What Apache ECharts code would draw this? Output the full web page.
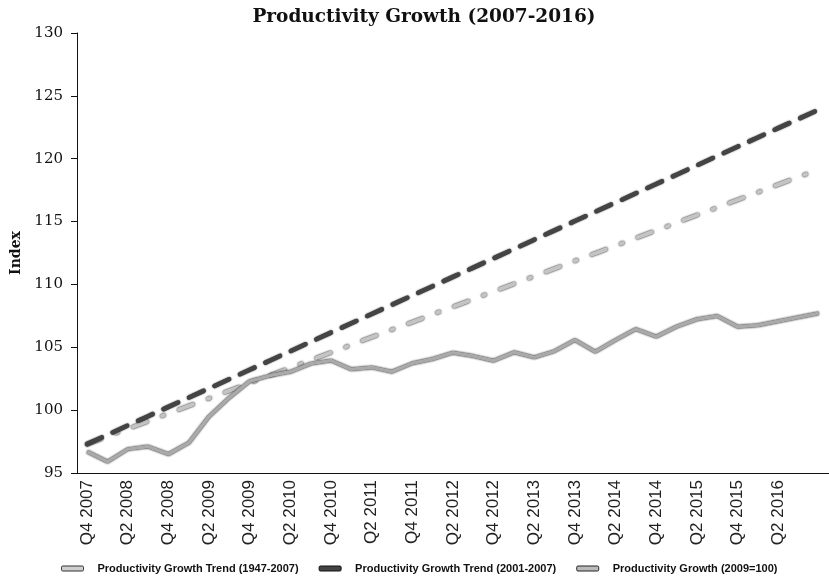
<!DOCTYPE html>
<html>
<head>
<meta charset="utf-8">
<script src="https://cdn.jsdelivr.net/npm/echarts@6/dist/echarts.min.js"></script>
<style>
  html, body { margin: 0; padding: 0; background: #fff; }
  #chart { width: 829px; height: 581px; }
</style>
</head>
<body>
<div id="chart"></div>
<script>
// quarters Q4 2007 .. Q4 2016
var quarters = [
  'Q4 2007',
  'Q1 2008', 'Q2 2008', 'Q3 2008', 'Q4 2008',
  'Q1 2009', 'Q2 2009', 'Q3 2009', 'Q4 2009',
  'Q1 2010', 'Q2 2010', 'Q3 2010', 'Q4 2010',
  'Q1 2011', 'Q2 2011', 'Q3 2011', 'Q4 2011',
  'Q1 2012', 'Q2 2012', 'Q3 2012', 'Q4 2012',
  'Q1 2013', 'Q2 2013', 'Q3 2013', 'Q4 2013',
  'Q1 2014', 'Q2 2014', 'Q3 2014', 'Q4 2014',
  'Q1 2015', 'Q2 2015', 'Q3 2015', 'Q4 2015',
  'Q1 2016', 'Q2 2016', 'Q3 2016', 'Q4 2016'
];

// trend 1947-2007 (dash-dot)
var trendLong = [
  97.3, 97.91, 98.51, 99.12, 99.73, 100.34, 100.94, 101.55, 102.16, 102.76,
  103.37, 103.98, 104.58, 105.19, 105.8, 106.41, 107.01, 107.62, 108.23, 108.83,
  109.44, 110.05, 110.65, 111.26, 111.87, 112.48, 113.08, 113.69, 114.3, 114.9,
  115.51, 116.12, 116.72, 117.33, 117.94, 118.55, 119.15
];

// trend 2001-2007 (dashed)
var trendShort = [
  97.3, 98.04, 98.78, 99.52, 100.26, 101.0, 101.73, 102.47, 103.21, 103.95,
  104.69, 105.43, 106.17, 106.91, 107.65, 108.39, 109.12, 109.86, 110.6, 111.34,
  112.08, 112.82, 113.56, 114.3, 115.04, 115.78, 116.51, 117.25, 117.99, 118.73,
  119.47, 120.21, 120.95, 121.69, 122.43, 123.17, 123.9
];

// actual productivity (2009=100)
var productivity = [
  96.7, 95.9, 96.9, 97.1, 96.5, 97.4, 99.5, 101.0, 102.3, 102.75,
  103.05, 103.7, 103.95, 103.25, 103.4, 103.06, 103.73, 104.07, 104.57, 104.3,
  103.93, 104.6, 104.2, 104.7, 105.58, 104.65, 105.58, 106.45, 105.85, 106.64,
  107.23, 107.49, 106.64, 106.75, 107.07, 107.39, 107.7
];

var seriesNames = [
  'Productivity Growth Trend (1947-2007)',
  'Productivity Growth Trend (2001-2007)',
  'Productivity Growth (2009=100)'
];

var yTicks = { min: 95, max: 130, step: 5 };

var myChart = echarts.init(document.getElementById('chart'));

var option = {
  animation: false,
  title: {
    text: 'Productivity Growth (2007-2016)',
    left: 419,
    top: 3,
    textAlign: 'center',
    textStyle: {
      fontFamily: 'DejaVu Serif',
      fontWeight: 'bold',
      fontSize: 18.5,
      color: '#111'
    }
  },
  legend: {
    bottom: 2,
    left: 56,
    itemGap: 20,
    itemWidth: 22,
    itemHeight: 5,
    textStyle: {
      fontFamily: 'Liberation Sans',
      fontWeight: 'bold',
      fontSize: 11,
      color: '#111',
      padding: [0, 0, 0, 9]
    },
    data: [
      { name: seriesNames[0], icon: 'roundRect', itemStyle: { color: '#cfcfcf', borderColor: '#333', borderWidth: 1 } },
      { name: seriesNames[1], icon: 'roundRect', itemStyle: { color: '#444', borderColor: '#111', borderWidth: 1 } },
      { name: seriesNames[2], icon: 'roundRect', itemStyle: { color: '#bbb', borderColor: '#222', borderWidth: 1 } }
    ]
  },
  grid: {
    left: 77,
    top: 33,
    bottom: 108,
    width: 761
  },
  xAxis: {
    type: 'category',
    data: quarters,
    boundaryGap: true,
    axisLine: { lineStyle: { color: '#111', width: 1 } },
    axisTick: {
      alignWithLabel: true,
      interval: 0,
      length: 5,
      lineStyle: { color: '#111' }
    },
    axisLabel: {
      rotate: 90,
      margin: 7,
      interval: function (i) { return i % 2 === 0 && i < quarters.length - 1; },
      fontFamily: 'Liberation Sans',
      fontSize: 17,
      color: '#222'
    },
    splitLine: { show: false }
  },
  yAxis: {
    type: 'value',
    min: yTicks.min,
    max: yTicks.max,
    interval: yTicks.step,
    name: 'Index',
    nameLocation: 'middle',
    nameGap: 46,
    nameTextStyle: {
      fontFamily: 'DejaVu Serif',
      fontWeight: 'bold',
      fontSize: 14,
      color: '#111'
    },
    axisLine: { show: true, lineStyle: { color: '#111', width: 1 } },
    axisTick: { show: true, length: 6, lineStyle: { color: '#111' } },
    axisLabel: {
      margin: 14,
      fontFamily: 'DejaVu Serif',
      fontSize: 15,
      color: '#111'
    },
    splitLine: { show: false }
  },
  series: [
    {
      name: seriesNames[0],
      type: 'line',
      data: trendLong,
      showSymbol: false,
      lineStyle: {
        color: '#c4c4c4',
        width: 4,
        type: [15, 16, 2, 16],
        cap: 'round',
        shadowColor: 'rgba(0,0,0,1)',
        shadowBlur: 2
      },
      itemStyle: { color: '#c4c4c4' }
    },
    {
      name: seriesNames[1],
      type: 'line',
      data: trendShort,
      showSymbol: false,
      lineStyle: {
        color: '#444',
        width: 4.5,
        type: [16, 12],
        cap: 'round',
        shadowColor: 'rgba(0,0,0,1)',
        shadowBlur: 1.5
      },
      itemStyle: { color: '#444' }
    },
    {
      name: seriesNames[2],
      type: 'line',
      data: productivity,
      showSymbol: false,
      lineStyle: {
        color: '#aaa',
        width: 3.5,
        shadowColor: 'rgba(0,0,0,1)',
        shadowBlur: 2
      },
      itemStyle: { color: '#aaa' }
    }
  ]
};

myChart.setOption(option);
</script>
</body>
</html>
